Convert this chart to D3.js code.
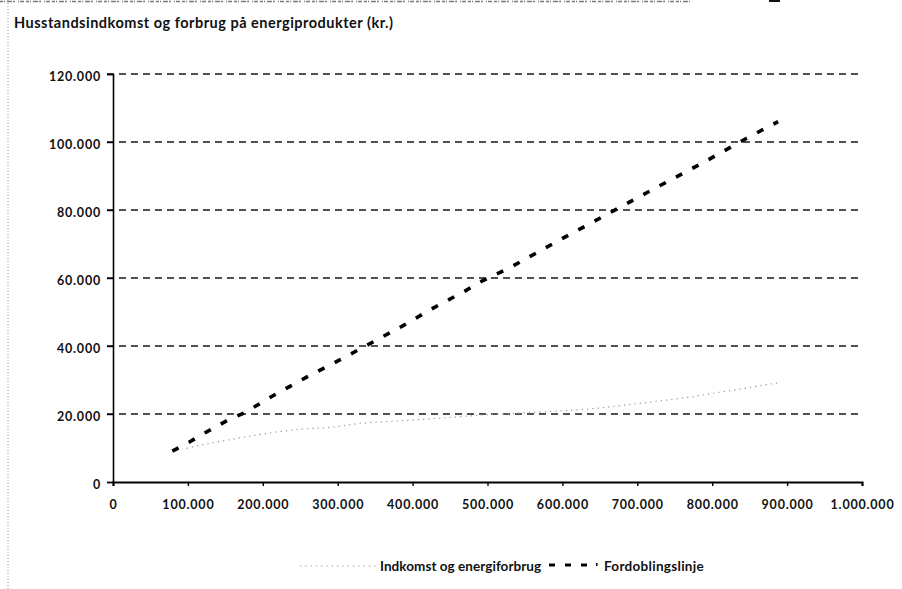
<!DOCTYPE html>
<html>
<head>
<meta charset="utf-8">
<script src="https://cdn.jsdelivr.net/npm/d3@7"></script>
<style>
  body { margin: 0; background: #fff; }
  text { font-family: Lato, "Open Sans", sans-serif; fill: #111; }
</style>
</head>
<body>
<svg id="chart" width="902" height="589"></svg>
<script>
// Chart text
const chartTitle = "Husstandsindkomst og forbrug på energiprodukter (kr.)";
const seriesNames = ["Indkomst og energiforbrug", "Fordoblingslinje"];

// Axis ticks (kr.)
const xTickValues = [0, 100000, 200000, 300000, 400000, 500000, 600000, 700000, 800000, 900000, 1000000];
const yTickValues = [0, 20000, 40000, 60000, 80000, 100000, 120000];

// Household income vs. energy consumption (kr.)
const incomeX = [98400, 129500, 183000, 220700, 253700, 293700, 329800, 373800, 418800, 463300, 490000,
                 563400, 607500, 647500, 694300, 739300, 774400, 801000, 837000, 887900];
const incomeY = [9900, 11400, 13500, 14800, 15600, 16100, 17300, 17900, 18500, 19200, 19700,
                 20500, 21000, 21700, 22900, 24100, 25100, 26100, 27300, 29200];

// Doubling line (kr.)
const doublingX = [79200, 101500, 121500, 153500, 175000, 217000, 259000, 302700, 385000, 428600,
                   471000, 490000, 532000, 599000, 663600, 723600, 786000, 846000, 888000];
const doublingY = [9100, 11700, 14300, 18200, 20300, 25800, 30900, 35900, 45700, 51300,
                   56300, 58800, 63300, 71500, 79200, 86400, 93700, 101100, 106000];

const svg = d3.select("#chart");

// Danish number formatting: 120.000
const dk = d3.formatLocale({ decimal: ",", thousands: ".", grouping: [3], currency: ["", " kr."] });
const fmt = dk.format(",d");

const x = d3.scaleLinear().domain([0, 1000000]).range([113, 862]);
const y = d3.scaleLinear().domain([0, 120000]).range([482, 74]);

// Page edges: dotted left rule and clipped text remnants along the top
svg.append("line")
  .attr("x1", 8).attr("x2", 8).attr("y1", 0).attr("y2", 589)
  .attr("stroke", "#9a9a9a").attr("stroke-width", 1)
  .attr("stroke-dasharray", "1,2");
svg.append("line")
  .attr("x1", 0).attr("x2", 690).attr("y1", 1.5).attr("y2", 1.5)
  .attr("stroke", "#7a7a7a").attr("stroke-width", 1.6)
  .attr("stroke-dasharray", "3,1,1,2,5,1,2,3,1,1,4,2");
svg.append("line")
  .attr("x1", 769).attr("x2", 780).attr("y1", 1).attr("y2", 1)
  .attr("stroke", "#111").attr("stroke-width", 2);

// Title
svg.append("text")
  .attr("x", 14).attr("y", 28)
  .attr("font-size", 14.5).attr("font-weight", 700)
  .attr("letter-spacing", 0.5)
  .text(chartTitle);

// Horizontal dashed gridlines
svg.append("g")
  .selectAll("line")
  .data(yTickValues.filter(v => v > 0))
  .join("line")
  .attr("x1", 107).attr("x2", x(1000000))
  .attr("y1", d => y(d)).attr("y2", d => y(d))
  .attr("stroke", "#1a1a1a").attr("stroke-width", 1.6)
  .attr("stroke-dasharray", "7,5");

// Y axis
const yAxis = d3.axisLeft(y).tickValues(yTickValues).tickSize(6).tickPadding(6).tickFormat(fmt);
const gy = svg.append("g").attr("transform", `translate(${x(0)},0)`).call(yAxis);
gy.select(".domain").attr("stroke", "#000").attr("stroke-width", 1.6);
gy.selectAll(".tick line").attr("stroke", "#000").attr("stroke-width", 1.4);
gy.selectAll(".tick text")
  .attr("font-family", "Lato, sans-serif").attr("font-size", 12.5).attr("font-weight", 700)
  .attr("letter-spacing", 0.8).attr("fill", "#111").attr("dy", "0.55em");

// X axis
const xAxis = d3.axisBottom(x).tickValues(xTickValues).tickSize(4).tickPadding(14).tickFormat(fmt);
const gx = svg.append("g").attr("transform", `translate(0,${y(0)})`).call(xAxis);
gx.select(".domain").attr("stroke", "#000").attr("stroke-width", 2);
gx.selectAll(".tick line").attr("stroke", "#000").attr("stroke-width", 1.4);
gx.selectAll(".tick text")
  .attr("font-family", "Lato, sans-serif").attr("font-size", 12.5).attr("font-weight", 700)
  .attr("letter-spacing", 0.8).attr("fill", "#111");

const line = d3.line().x(d => x(d[0])).y(d => y(d[1]));

// Income vs. energy consumption: faint dotted line
svg.append("path")
  .datum(d3.zip(incomeX, incomeY))
  .attr("d", line)
  .attr("fill", "none")
  .attr("stroke", "#9c9c9c").attr("stroke-width", 1.2)
  .attr("stroke-dasharray", "1.3,4");

// Doubling line: heavy black dashes
svg.append("path")
  .datum(d3.zip(doublingX, doublingY))
  .attr("d", line)
  .attr("fill", "none")
  .attr("stroke", "#000").attr("stroke-width", 3.6)
  .attr("stroke-dasharray", "7,11.5");

// Legend
const legendY = 566;
const lg = svg.append("g");
lg.append("line")
  .attr("x1", 300).attr("x2", 376).attr("y1", legendY).attr("y2", legendY)
  .attr("stroke", "#9c9c9c").attr("stroke-width", 1.2).attr("stroke-dasharray", "1.3,4");
lg.append("text")
  .attr("x", 380).attr("y", legendY + 5)
  .attr("font-size", 13.5).attr("font-weight", 700).attr("letter-spacing", 0.05)
  .text(seriesNames[0]);
lg.append("line")
  .attr("x1", 549).attr("x2", 596).attr("y1", legendY - 1).attr("y2", legendY - 1)
  .attr("stroke", "#000").attr("stroke-width", 3.2).attr("stroke-dasharray", "6,10");
lg.append("rect")
  .attr("x", 596).attr("y", legendY - 3).attr("width", 1.5).attr("height", 3)
  .attr("fill", "#000");
lg.append("text")
  .attr("x", 604).attr("y", legendY + 5)
  .attr("font-size", 13.5).attr("font-weight", 700).attr("letter-spacing", 0.3)
  .text(seriesNames[1]);
</script>
</body>
</html>
